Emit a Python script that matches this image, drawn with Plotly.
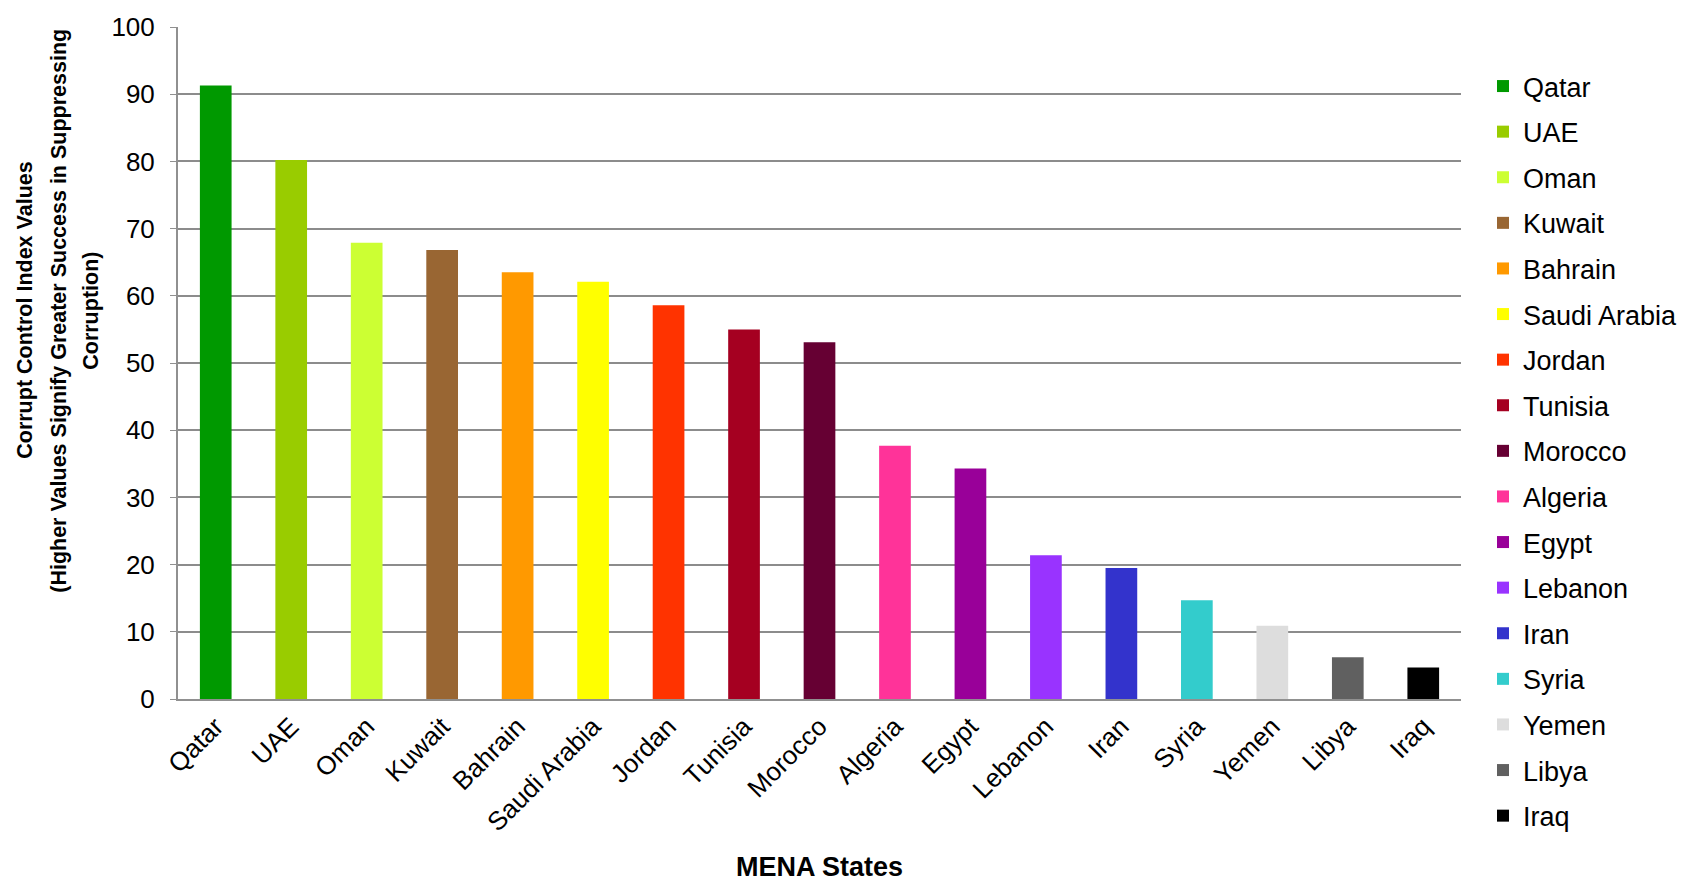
import plotly.graph_objects as go

countries = ["Qatar", "UAE", "Oman", "Kuwait", "Bahrain", "Saudi Arabia", "Jordan",
             "Tunisia", "Morocco", "Algeria", "Egypt", "Lebanon", "Iran", "Syria",
             "Yemen", "Libya", "Iraq"]
values = [91.3, 80.2, 67.9, 66.8, 63.5, 62.1, 58.6, 55.0, 53.1, 37.7, 34.3, 21.4,
          19.5, 14.7, 10.9, 6.2, 4.7]
colors = ["#009900", "#99CC00", "#CCFF33", "#996633", "#FF9900", "#FFFF00", "#FF3300",
          "#A50021", "#660033", "#FF3399", "#990099", "#9933FF", "#3333CC", "#33CCCC",
          "#DDDDDD", "#606060", "#000000"]
y_ticks = [0, 10, 20, 30, 40, 50, 60, 70, 80, 90, 100]
y_title_lines = ["Corrupt Control Index Values",
                 "(Higher Values Signify Greater Success in Suppressing",
                 "Corruption)"]
x_title = "MENA States"

fig = go.Figure()
for c, v, col in zip(countries, values, colors):
    fig.add_trace(go.Bar(x=[c], y=[v], name=c, marker=dict(color=col, line=dict(width=0)),
                         width=0.42, legendgroup=c))

L, R, T, B = 178, 231, 17, 182
W, H = 1692, 881
pw = W - L - R
ph = H - T - B

def px_x(p):
    return (p - L) / pw

def px_y(p):
    return (H - B - p) / ph

title_font = dict(family="Liberation Sans, Arial, sans-serif", size=21.5, color="#000000")
annotations = []
for xp, line in zip([25, 59, 91], y_title_lines):
    annotations.append(dict(text="<b>" + line + "</b>", xref="paper", yref="paper",
                            x=px_x(xp), y=px_y(305), xanchor="center", yanchor="middle",
                            textangle=-90, showarrow=False, font=title_font))
annotations.append(dict(text="<b>" + x_title + "</b>", xref="paper", yref="paper",
                        x=0.5, y=px_y(869), xanchor="center", yanchor="middle",
                        showarrow=False,
                        font=dict(family="Liberation Sans, Arial, sans-serif", size=27,
                                  color="#000000")))

fig.update_layout(
    width=W, height=H,
    margin=dict(l=L, r=R, t=T, b=B),
    barmode="overlay",
    plot_bgcolor="white", paper_bgcolor="white",
    font=dict(family="Liberation Sans, Arial, sans-serif", color="#000000"),
    showlegend=True,
    legend=dict(x=(1483) / W, xref="container", y=1 - 62 / H, yref="container",
                xanchor="left", yanchor="top", maxheight=870,
                font=dict(size=27, color="#000000"), tracegroupgap=7.5,
                itemwidth=30, traceorder="grouped"),
    xaxis=dict(categoryorder="array", categoryarray=countries, tickangle=-45,
               tickfont=dict(size=26, color="#000000"), showline=True,
               linecolor="#909090", linewidth=2, ticks="", showgrid=False),
    yaxis=dict(range=[0, 100], tickvals=y_ticks, tickfont=dict(size=26, color="#000000"),
               showline=True, linecolor="#909090", linewidth=2, ticks="outside",
               ticklen=6, tickcolor="#909090", showgrid=True, gridcolor="#8c8c8c",
               gridwidth=2, zeroline=False, ticklabelstandoff=10),
    annotations=annotations,
)
fig.write_html("out.html", post_script="document.body.style.margin='0';",
               config={"displayModeBar": False})
